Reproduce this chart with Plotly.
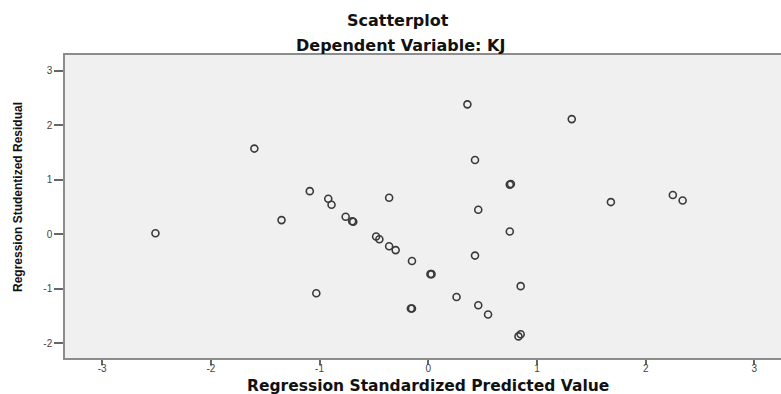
import plotly.graph_objects as go

# Data
pred_x = [-2.51, -1.60, -1.35, -1.09, -1.03, -0.92, -0.89, -0.76, -0.70, -0.69,
          -0.36, -0.48, -0.45, -0.36, -0.30, -0.15, 0.03, 0.02, 0.43, 0.76,
          0.75, 0.46, 0.75, 0.43, 0.85, -0.15, -0.16, 0.26, 0.46, 0.55,
          0.83, 0.85, 0.36, 1.32, 1.68, 2.25, 2.34]
resid_y = [0.02, 1.57, 0.26, 0.79, -1.08, 0.65, 0.54, 0.32, 0.24, 0.23,
           0.67, -0.04, -0.09, -0.22, -0.29, -0.49, -0.73, -0.73, 1.36, 0.92,
           0.91, 0.45, 0.05, -0.39, -0.95, -1.36, -1.36, -1.15, -1.30, -1.47,
           -1.87, -1.83, 2.38, 2.11, 0.59, 0.72, 0.62]

x_ticks = [-3, -2, -1, 0, 1, 2, 3]
y_ticks = [-2, -1, 0, 1, 2, 3]

title_line1 = "Scatterplot"
title_line2 = "Dependent Variable: KJ"
x_title = "Regression Standardized Predicted Value"
y_title = "Regression Studentized Residual"

fig = go.Figure()
fig.add_trace(go.Scatter(
    x=pred_x, y=resid_y, mode="markers",
    marker=dict(symbol="circle-open", size=7, color="#3a3a3a", line=dict(width=1.6)),
    hoverinfo="x+y", showlegend=False,
))

W, H = 781, 394
L, R, T, B = 65, 0, 55, 36
pw, ph = W - L - R, H - T - B

def px_x(p):
    return (p - L) / pw

def px_y(p):
    return (H - B - p) / ph

title_font = dict(family="DejaVu Sans", size=16, color="#111111")
fig.update_layout(
    width=W, height=H,
    margin=dict(l=L, r=R, t=T, b=B),
    paper_bgcolor="white",
    plot_bgcolor="#f0f0f0",
    font=dict(family="Liberation Sans", color="#444444"),
    annotations=[
        dict(text="<b>" + title_line1 + "</b>", x=px_x(398), y=px_y(20), xref="paper", yref="paper",
             showarrow=False, xanchor="center", yanchor="middle", font=title_font),
        dict(text="<b>" + title_line2 + "</b>", x=px_x(400), y=px_y(46), xref="paper", yref="paper",
             showarrow=False, xanchor="center", yanchor="middle", font=title_font),
        dict(text="<b>" + x_title + "</b>", x=px_x(428), y=px_y(386), xref="paper", yref="paper",
             showarrow=False, xanchor="center", yanchor="middle",
             font=dict(family="DejaVu Sans", size=15.5, color="#111111")),
        dict(text="<b>" + y_title + "</b>", x=px_x(18), y=px_y(197), xref="paper", yref="paper",
             showarrow=False, xanchor="center", yanchor="middle", textangle=-90,
             font=dict(family="Liberation Sans", size=12, color="#111111")),
    ],
)
fig.update_xaxes(
    range=[-3.342, 3.245], tickvals=x_ticks, ticktext=[str(v) for v in x_ticks],
    showgrid=False, zeroline=False,
    showline=True, linecolor="#8c8c8c", linewidth=1.5, mirror=True,
    ticks="outside", ticklen=5, tickwidth=1.5, tickcolor="#666666",
    tickfont=dict(size=10, color="#444444"),
    ticklabelstandoff=-5,
)
fig.update_yaxes(
    range=[-2.266, 3.284], tickvals=y_ticks, ticktext=[str(v) for v in y_ticks],
    showgrid=False, zeroline=False,
    showline=True, linecolor="#8c8c8c", linewidth=1.5,
    ticks="outside", ticklen=9, tickwidth=1.5, tickcolor="#666666",
    tickfont=dict(size=10, color="#444444"),
)

fig.write_html(
    "out.html",
    config={"displayModeBar": False},
    post_script="document.body.style.margin='0';document.body.style.overflow='hidden';",
)
